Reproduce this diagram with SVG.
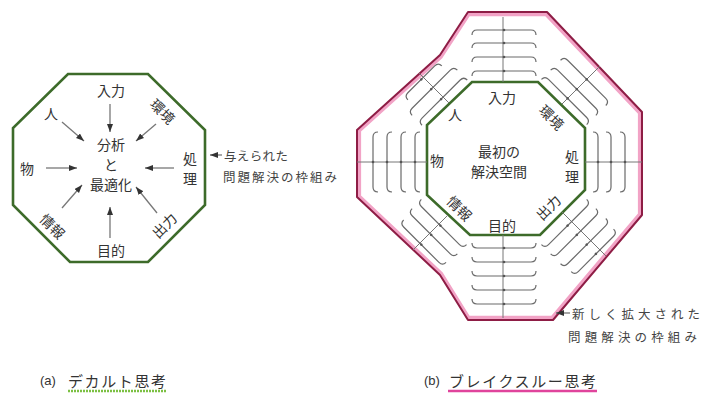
<svg xmlns="http://www.w3.org/2000/svg" xmlns:xlink="http://www.w3.org/1999/xlink" width="709" height="398" viewBox="0 0 709 398">
<style>
text{font-family:"Noto Sans CJK JP","Noto Sans",sans-serif;fill:#333;}
.lbl{font-size:14px;text-anchor:middle;dominant-baseline:central;}
.ctr{font-size:14px;text-anchor:middle;dominant-baseline:central;}
.ann{font-size:12.5px;dominant-baseline:central;fill:#444;}
.cap{font-size:15px;dominant-baseline:central;}
.green{fill:none;stroke:#3d6b2a;stroke-width:2.6;stroke-linejoin:miter;}
.arw{stroke:#777;stroke-width:1.3;fill:none;marker-end:url(#ah);}
.brk{fill:none;stroke:#6a6a6a;stroke-width:1.2;}
.axis{stroke:#777;stroke-width:1;fill:none;}
</style>
<defs>
<marker id="ah" markerUnits="userSpaceOnUse" markerWidth="9" markerHeight="7" refX="8" refY="3" orient="auto"><path d="M0,0 L8,3 L0,6 Z" fill="#333"/></marker>
<g id="b64"><path class="brk" d="M-32,5 Q-32,0 -27,0 L27,0 Q32,0 32,5"/><circle r="1.3" fill="#555"/></g>
<g id="b60"><path class="brk" d="M-30,5 Q-30,0 -25,0 L25,0 Q30,0 30,5"/><circle r="1.3" fill="#555"/></g>
<g id="b48"><path class="brk" d="M-24,5 Q-24,0 -19,0 L19,0 Q24,0 24,5"/><circle r="1.3" fill="#555"/></g>
</defs>
<rect width="709" height="398" fill="#fff"/>

<!-- (a) left diagram -->
<g id="frame-a">
<polygon class="green" points="68,74 148,74 205,130 205,205 148,262 70,262 13,205 13,128"/>
</g>
<g id="connectors-a">
<line class="arw" x1="110" y1="104" x2="110" y2="132"/>
<line class="arw" x1="62" y1="122" x2="84" y2="141"/>
<line class="arw" x1="156" y1="124" x2="136" y2="141"/>
<line class="arw" x1="46" y1="168" x2="77" y2="168"/>
<line class="arw" x1="174" y1="168" x2="145" y2="168"/>
<line class="arw" x1="62" y1="208" x2="82" y2="185"/>
<line class="arw" x1="110" y1="238" x2="110" y2="207"/>
<line class="arw" x1="157" y1="213" x2="136" y2="187"/>
<line class="arw" x1="222" y1="155" x2="210" y2="155"/>
</g>
<g id="a-center"><text class="ctr" x="111" y="144">分析</text><text class="ctr" x="111" y="164">と</text><text class="ctr" x="111" y="184">最適化</text></g>
<g id="a-input"><text class="lbl" x="111" y="90">入力</text></g>
<g id="a-person"><text class="lbl" x="51" y="113">人</text></g>
<g id="a-env"><text class="lbl" transform="translate(163,111) rotate(45)">環境</text></g>
<g id="a-thing"><text class="lbl" x="27" y="168">物</text></g>
<g id="a-process"><text class="lbl" x="190" y="158">処</text><text class="lbl" x="190" y="178">理</text></g>
<g id="a-info"><text class="lbl" transform="translate(53,226) rotate(45)">情報</text></g>
<g id="a-output"><text class="lbl" transform="translate(164,225) rotate(-45)">出力</text></g>
<g id="a-goal"><text class="lbl" x="111" y="250">目的</text></g>
<g id="a-note"><text class="ann" x="224" y="155" textLength="64" lengthAdjust="spacing">与えられた</text><text class="ann" x="223" y="176" textLength="114" lengthAdjust="spacing">問題解決の枠組み</text></g>

<!-- (b) right diagram -->
<g id="frame-b-outer">
<path d="M468,12 L547,12 L642,112 L642,215 L553,320 L468,320 L440,275 L357,197 L357,130 L440,55 Z" fill="none" stroke="#f2a3c6" stroke-width="4" stroke-linejoin="round" transform="translate(500,166) scale(0.985) translate(-500,-166)"/>
<path d="M468,12 L547,12 L642,112 L642,215 L553,320 L468,320 L440,275 L357,197 L357,130 L440,55 Z" fill="none" stroke="#8e1d45" stroke-width="2" stroke-linejoin="round"/>
</g>
<g id="frame-b-inner">
<polygon class="green" points="472,82 538,82 585,128 585,190 540,235 470,235 427,195 427,125"/>
</g>
<g id="expansion">
<line class="axis" x1="503" y1="17" x2="503" y2="82"/>
<line class="axis" x1="503" y1="235" x2="503" y2="318"/>
<line class="axis" x1="357" y1="162" x2="427" y2="162"/>
<line class="axis" x1="585" y1="162" x2="642" y2="162"/>
<line class="axis" x1="562" y1="104" x2="600" y2="66"/>
<line class="axis" x1="449" y1="103" x2="419" y2="73"/>
<line class="axis" x1="448" y1="215" x2="413" y2="250"/>
<line class="axis" x1="562" y1="212" x2="606" y2="256"/>
<use xlink:href="#b64" transform="translate(504,30)"/>
<use xlink:href="#b64" transform="translate(504,43)"/>
<use xlink:href="#b64" transform="translate(504,57)"/>
<use xlink:href="#b64" transform="translate(504,71)"/>
<use xlink:href="#b64" transform="translate(504,248) rotate(180)"/>
<use xlink:href="#b64" transform="translate(504,262) rotate(180)"/>
<use xlink:href="#b64" transform="translate(504,276) rotate(180)"/>
<use xlink:href="#b64" transform="translate(504,290) rotate(180)"/>
<use xlink:href="#b64" transform="translate(504,304) rotate(180)"/>
<use xlink:href="#b60" transform="translate(373,162) rotate(-90)"/>
<use xlink:href="#b60" transform="translate(387,162) rotate(-90)"/>
<use xlink:href="#b60" transform="translate(401,162) rotate(-90)"/>
<use xlink:href="#b60" transform="translate(415,162) rotate(-90)"/>
<use xlink:href="#b60" transform="translate(598,162) rotate(90)"/>
<use xlink:href="#b60" transform="translate(611,162) rotate(90)"/>
<use xlink:href="#b60" transform="translate(625,162) rotate(90)"/>
<use xlink:href="#b64" transform="translate(567.6,98.4) rotate(45)"/>
<use xlink:href="#b64" transform="translate(576.8,89.2) rotate(45)"/>
<use xlink:href="#b64" transform="translate(586.7,79.3) rotate(45)"/>
<use xlink:href="#b64" transform="translate(441.1,99.1) rotate(-45)"/>
<use xlink:href="#b64" transform="translate(431.2,89.2) rotate(-45)"/>
<use xlink:href="#b48" transform="translate(421.3,79.3) rotate(-45)"/>
<use xlink:href="#b64" transform="translate(567.6,225.6) rotate(135)"/>
<use xlink:href="#b64" transform="translate(576.8,234.8) rotate(135)"/>
<use xlink:href="#b64" transform="translate(586.7,244.7) rotate(135)"/>
<use xlink:href="#b60" transform="translate(595.9,253.9) rotate(135)"/>
<use xlink:href="#b64" transform="translate(440.4,225.6) rotate(-135)"/>
<use xlink:href="#b64" transform="translate(431.2,234.8) rotate(-135)"/>
<use xlink:href="#b60" transform="translate(421.3,244.7) rotate(-135)"/>
</g>
<g id="connectors-b">
<line class="arw" x1="570" y1="313" x2="556" y2="313"/>
</g>
<g id="b-center"><text class="ctr" x="499" y="151">最初の</text><text class="ctr" x="499" y="171">解決空間</text></g>
<g id="b-input"><text class="lbl" x="502" y="97">入力</text></g>
<g id="b-person"><text class="lbl" x="455" y="114">人</text></g>
<g id="b-env"><text class="lbl" transform="translate(552,117) rotate(45)">環境</text></g>
<g id="b-thing"><text class="lbl" x="437" y="160">物</text></g>
<g id="b-process"><text class="lbl" x="572" y="156">処</text><text class="lbl" x="572" y="176">理</text></g>
<g id="b-info"><text class="lbl" transform="translate(460,208) rotate(45)">情報</text></g>
<g id="b-output"><text class="lbl" transform="translate(548,207) rotate(-45)">出力</text></g>
<g id="b-goal"><text class="lbl" x="502" y="225">目的</text></g>
<g id="b-note"><text class="ann" x="572" y="313" textLength="128" lengthAdjust="spacing">新しく拡大された</text><text class="ann" x="568" y="336" textLength="129" lengthAdjust="spacing">問題解決の枠組み</text></g>

<!-- captions -->
<g id="caption-a">
<line x1="68" y1="391" x2="166" y2="391" stroke="#7cc043" stroke-width="2.5" stroke-dasharray="2 1"/>
<text class="cap" x="40" y="380" style="font-family:'Liberation Sans',sans-serif;font-size:13px">(a)</text>
<text class="cap" x="68" y="380" textLength="98" lengthAdjust="spacing">デカルト思考</text>
</g>
<g id="caption-b">
<line x1="448" y1="391" x2="597" y2="391" stroke="#e0449c" stroke-width="2.5"/>
<text class="cap" x="424" y="380" style="font-family:'Liberation Sans',sans-serif;font-size:13px">(b)</text>
<text class="cap" x="449" y="380" textLength="147" lengthAdjust="spacing">ブレイクスルー思考</text>
</g>
</svg>
